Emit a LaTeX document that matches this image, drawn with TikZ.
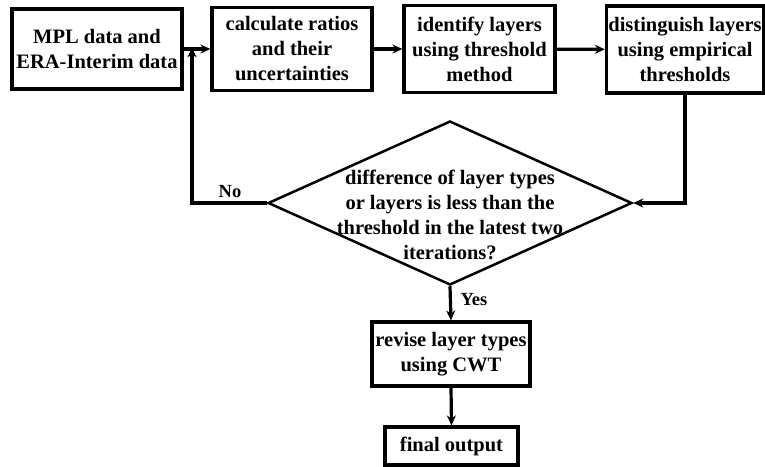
\documentclass[tikz,border=0pt]{standalone}
\usepackage{fontspec}
\setmainfont{Liberation Serif}
\usetikzlibrary{shapes.geometric,arrows.meta}
\begin{document}
\begin{tikzpicture}[x=1pt,y=-1pt,
  txt/.style={font=\fontsize{20.5}{25}\selectfont\bfseries,align=center},
  box/.style={draw,line width=3.2pt,txt,inner sep=0pt},
  arr/.style={line width=3.2pt,-{Stealth[length=10pt,width=9pt]}},
  lbl/.style={font=\fontsize{18.5}{20}\selectfont\bfseries,inner sep=0pt}]
\useasboundingbox (0,0) rectangle (765,466);
\node[box,minimum width=170pt,minimum height=80pt] (b1) at (97,49) {MPL data and\\ERA-Interim data};
\node[box,minimum width=160pt,minimum height=83pt] (b2) at (292,49) {calculate ratios\\and their\\uncertainties};
\node[box,minimum width=151pt,minimum height=87pt] (b3) at (479.5,49) {identify layers\\using threshold\\method};
\node[box,minimum width=157pt,minimum height=87pt] (b4) at (685,49.5) {distinguish layers\\using empirical\\thresholds};
\node[draw,diamond,line width=2.5pt,inner sep=0pt,minimum width=364pt,minimum height=164pt] (dia) at (450,203) {};
\node[txt,inner sep=0pt] (diat) at (450,215) {difference of layer types\\or layers is less than the\\threshold in the latest two\\iterations?};
\node[box,minimum width=158pt,minimum height=64pt] (b5) at (451,354) {revise layer types\\using CWT};
\node[box,minimum width=133pt,minimum height=38pt] (b6) at (451.5,446) {final output};
\coordinate (fb) at (192,49);
\draw[arr] (b1) -- (b2);
\draw[arr] (b2) -- (b3);
\draw[arr] (b3) -- (b4);
\draw[arr] (b4.south) |- (dia.east);
\draw[arr] (dia.west) -| ([yshift=1.6pt]fb);
\draw[arr] (dia.south) -- (b5.north);
\draw[arr] (b5.south) -- (b6.north);
\node[lbl] (no) at (230,192) {No};
\node[lbl] (yes) at (474,300) {Yes};
\end{tikzpicture}
\end{document}
